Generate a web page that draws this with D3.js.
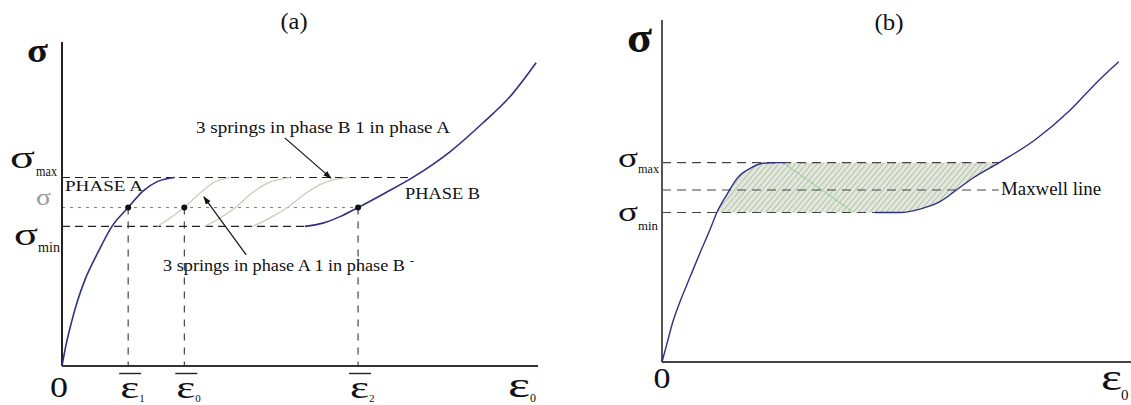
<!DOCTYPE html>
<html>
<head>
<meta charset="utf-8">
<script src="https://cdn.jsdelivr.net/npm/d3@7"></script>
<style>
  html, body { margin: 0; padding: 0; background: #fff; }
  svg { display: block; }
  text { font-family: "Liberation Serif", "Times New Roman", Times, serif; fill: #111; }
</style>
</head>
<body>
<svg id="chart" width="1131" height="405"></svg>
<script>
// ---------- Panel (a): stress–strain curve with spring states ----------
const phaseA = [[0,0],[0.08,0.62],[0.19,1.30],[0.32,1.98],[0.48,2.65],[0.76,3.52],[1.05,4.31],[1.39,4.89],[1.70,5.40],[2.0,5.69],[2.37,5.82]];
const phaseB = [[5.1,4.31],[5.48,4.41],[5.84,4.61],[6.22,4.89],[6.79,5.34],[7.37,5.82],[8.15,6.61],[8.84,7.5],[9.41,8.31],[9.96,9.36]];
const spring1 = [[2.0,4.31],[2.27,4.57],[2.58,4.91],[2.9,5.34],[3.17,5.65],[3.53,5.82]];
const spring2 = [[3.0,4.31],[3.32,4.57],[3.66,4.91],[3.99,5.34],[4.33,5.65],[4.79,5.82]];
const spring3 = [[4.01,4.31],[4.37,4.57],[4.75,4.91],[5.13,5.34],[5.5,5.65],[6.05,5.82]];
const sigmaMaxA = 5.82, sigmaBarA = 4.89, sigmaMinA = 4.31;
const sigmaMaxEndA = 7.37;          // where phase B crosses sigma_max
const eps1 = 1.39, eps0 = 2.57, eps2 = 6.22;
const arrowUpper = [[4.68,7.04],[5.65,5.80]];
const arrowLower = [[3.87,3.43],[2.98,5.22]];

// ---------- Panel (b): Maxwell construction ----------
const branchLeft  = [[0,0],[0.11,0.56],[0.23,1.17],[0.38,1.75],[0.6,2.49],[0.81,3.19],[1.02,3.86],[1.17,4.37],[1.39,4.91],[1.6,5.37],[1.88,5.66],[2.15,5.81],[2.45,5.83],[2.62,5.83]];
const branchRight = [[4.54,4.37],[5.07,4.37],[5.57,4.5],[5.93,4.69],[6.28,5.03],[6.63,5.38],[7.19,5.83],[7.95,6.49],[8.7,7.36],[9.28,8.19],[9.74,8.78]];
const sigmaMaxB = 5.83, sigmaMaxwell = 5.03, sigmaMinB = 4.37;
const maxwellEnd = 7.18, sigmaMinEndB = 5.07;
const greenTrace = [[2.58,5.83],[4.07,4.39]];

const svg = d3.select("#chart");
const curveColor = "#2e3182";
const smooth = d3.curveMonotoneX;

// scales
const xA = d3.scaleLinear().domain([0,10]).range([62,538]);
const yA = d3.scaleLinear().domain([0,10]).range([366,42]);
const xB = d3.scaleLinear().domain([0,10]).range([662,1131]);
const yB = d3.scaleLinear().domain([0,10]).range([362,20]);

const defs = svg.append("defs");
defs.append("marker").attr("id","arrow").attr("viewBox","0 0 10 10")
  .attr("refX",9).attr("refY",5).attr("markerWidth",7).attr("markerHeight",7)
  .attr("orient","auto-start-reverse")
  .append("path").attr("d","M0,1.5 L10,5 L0,8.5 Z").attr("fill","#111");

const hatch = defs.append("pattern").attr("id","hatch").attr("patternUnits","userSpaceOnUse")
  .attr("width",4.2).attr("height",4.2).attr("patternTransform","rotate(40)");
hatch.append("rect").attr("width",4.2).attr("height",4.2).attr("fill","#e3e8dd");
hatch.append("line").attr("x1",0.5).attr("y1",0).attr("x2",0.5).attr("y2",4.2)
  .attr("stroke","#acb6a1").attr("stroke-width",0.8);

// text helper: serif lettering, optionally fitted to a width
function label(g, x, y, txt, size, o = {}) {
  const t = g.append("text").attr("x",x).attr("y",y).text(txt)
    .attr("font-size",size)
    .attr("text-anchor", o.anchor || "start");
  if (o.weight) t.attr("font-weight", o.weight);
  if (o.fill) t.style("fill", o.fill);
  if (o.len) t.attr("textLength", o.len).attr("lengthAdjust","spacingAndGlyphs");
  return t;
}

// ================= Panel (a) =================
const gA = svg.append("g");
const lineA = d3.line().x(d => xA(d[0])).y(d => yA(d[1])).curve(smooth);

// reference levels
gA.append("line").attr("x1",xA(0)).attr("x2",xA(sigmaMaxEndA)).attr("y1",yA(sigmaMaxA)).attr("y2",yA(sigmaMaxA))
  .attr("stroke","#222").attr("stroke-width",1.1).attr("stroke-dasharray","8,5");
gA.append("line").attr("x1",xA(0)).attr("x2",xA(eps2)).attr("y1",yA(sigmaBarA)).attr("y2",yA(sigmaBarA))
  .attr("stroke","#777").attr("stroke-width",1).attr("stroke-dasharray","3,5");
gA.append("line").attr("x1",xA(0)).attr("x2",xA(phaseB[0][0])).attr("y1",yA(sigmaMinA)).attr("y2",yA(sigmaMinA))
  .attr("stroke","#222").attr("stroke-width",1.1).attr("stroke-dasharray","8,5");
[eps1, eps0, eps2].forEach(e => {
  gA.append("line").attr("x1",xA(e)).attr("x2",xA(e)).attr("y1",yA(sigmaBarA)).attr("y2",yA(0))
    .attr("stroke","#333").attr("stroke-width",1.1).attr("stroke-dasharray","7,7");
});

// spring transition curves
[spring1, spring2, spring3].forEach(s => {
  gA.append("path").attr("d", lineA(s)).attr("fill","none").attr("stroke","#c8cdbf").attr("stroke-width",1.3);
});

// axes
gA.append("line").attr("x1",xA(0)).attr("x2",xA(0)).attr("y1",yA(0)).attr("y2",yA(10)).attr("stroke","#222").attr("stroke-width",2);
gA.append("line").attr("x1",xA(0)).attr("x2",xA(10)).attr("y1",yA(0)).attr("y2",yA(0)).attr("stroke","#333").attr("stroke-width",2);

// phase branches
gA.append("path").attr("d", lineA(phaseA)).attr("fill","none").attr("stroke",curveColor).attr("stroke-width",1.6);
gA.append("path").attr("d", lineA(phaseB)).attr("fill","none").attr("stroke",curveColor).attr("stroke-width",1.6);

// equilibrium points
[eps1, eps0, eps2].forEach(e => {
  gA.append("circle").attr("cx",xA(e)).attr("cy",yA(sigmaBarA)).attr("r",3).attr("fill","#111");
});

// annotation arrows
[arrowUpper, arrowLower].forEach(a => {
  gA.append("line").attr("x1",xA(a[0][0])).attr("y1",yA(a[0][1])).attr("x2",xA(a[1][0])).attr("y2",yA(a[1][1]))
    .attr("stroke","#111").attr("stroke-width",1.2).attr("marker-end","url(#arrow)");
});

// labels
label(gA, 294, 29, "(a)", 23, {anchor:"middle", len:27});
label(gA, 27, 62, "σ", 34, {weight:"bold", len:21});
label(gA, 10, 168, "σ", 32, {len:25});
label(gA, 36, 176, "max", 14, {len:21});
label(gA, 36, 205, "σ", 23, {fill:"#9a9a9a", len:15});
label(gA, 14, 245, "σ", 32, {len:24});
label(gA, 38, 252, "min", 14, {len:22});
label(gA, 65, 191, "PHASE A", 15, {len:78});
label(gA, 405, 199, "PHASE B", 16, {len:75});
label(gA, 196, 132.5, "3 springs in phase B 1 in phase A", 17, {len:254});
label(gA, 163, 271, "3 springs in phase A 1 in phase B", 17, {len:242});
label(gA, 410, 265, "-", 12);

// x-axis labels
label(gA, xA(0) - 3, 397, "0", 29, {anchor:"middle", len:18});
[[eps1,"1"],[eps0,"0"],[eps2,"2"]].forEach(([e, sub]) => {
  const cx = xA(e);
  label(gA, cx - 8, 398, "ε", 32, {len:19});
  label(gA, cx + 11, 402, sub, 11);
  gA.append("line").attr("x1",cx - 9).attr("x2",cx + 13).attr("y1",373.5).attr("y2",373.5)
    .attr("stroke","#222").attr("stroke-width",1.4);
});
label(gA, 508, 397, "ε", 35, {len:22});
label(gA, 530, 402, "0", 12);

// ================= Panel (b) =================
const gB = svg.append("g");
const lineB = d3.line().x(d => xB(d[0])).y(d => yB(d[1])).curve(smooth);

// shaded region between the branches, limited by sigma_min and sigma_max
const upperEdge = branchLeft.filter(d => d[1] >= sigmaMinB - 1e-9);
const lowerEdge = branchRight.filter(d => d[1] <= sigmaMaxB + 1e-9);
const upperPath = lineB(upperEdge);
const lowerPath = lineB(lowerEdge.slice().reverse());
const regionPath = upperPath +
  "L" + xB(lowerEdge[lowerEdge.length-1][0]) + "," + yB(sigmaMaxB) +
  "L" + lowerPath.slice(1) +
  "L" + xB(lowerEdge[0][0]) + "," + yB(sigmaMinB) +
  "L" + xB(upperEdge[0][0]) + "," + yB(sigmaMinB) + "Z";
gB.append("path").attr("d", regionPath).attr("fill","url(#hatch)");

gB.append("line").attr("x1",xB(greenTrace[0][0])).attr("y1",yB(greenTrace[0][1]))
  .attr("x2",xB(greenTrace[1][0])).attr("y2",yB(greenTrace[1][1]))
  .attr("stroke","#8fce8f").attr("stroke-width",1);

// dashed stress levels
[[sigmaMaxB, lowerEdge[lowerEdge.length-1][0]], [sigmaMaxwell, maxwellEnd], [sigmaMinB, sigmaMinEndB]].forEach(([s, end]) => {
  gB.append("line").attr("x1",xB(0)).attr("x2",xB(end)).attr("y1",yB(s)).attr("y2",yB(s))
    .attr("stroke","#444").attr("stroke-width",1.1).attr("stroke-dasharray","9,6");
});

// axes
gB.append("line").attr("x1",xB(0)).attr("x2",xB(0)).attr("y1",yB(0)).attr("y2",yB(10)).attr("stroke","#555").attr("stroke-width",2);
gB.append("line").attr("x1",xB(0)).attr("x2",xB(10)).attr("y1",yB(0)).attr("y2",yB(0)).attr("stroke","#444").attr("stroke-width",2);

// branches
gB.append("path").attr("d", lineB(branchLeft)).attr("fill","none").attr("stroke",curveColor).attr("stroke-width",1.4);
gB.append("path").attr("d", lineB(branchRight)).attr("fill","none").attr("stroke",curveColor).attr("stroke-width",1.4);

// labels
label(gB, 889, 30, "(b)", 23, {anchor:"middle", len:29});
label(gB, 627, 52, "σ", 44, {weight:"bold", len:25});
label(gB, 618, 167, "σ", 28, {len:20});
label(gB, 638, 173, "max", 13, {len:21});
label(gB, 618, 221, "σ", 28, {len:20});
label(gB, 638, 230, "min", 13, {len:20});
label(gB, 1001, 195, "Maxwell line", 19, {len:100});
label(gB, 662, 388, "0", 30, {anchor:"middle", len:17});
label(gB, 1101, 390, "ε", 37, {len:21});
label(gB, 1121, 400, "0", 15);
</script>
</body>
</html>
